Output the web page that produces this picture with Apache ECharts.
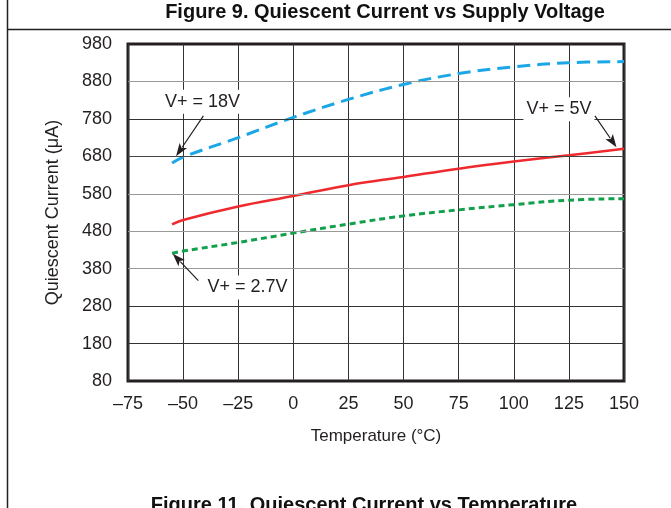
<!DOCTYPE html>
<html>
<head>
<meta charset="utf-8">
<script src="https://cdn.jsdelivr.net/npm/echarts@6/dist/echarts.min.js"></script>
<style>
  html, body { margin: 0; padding: 0; background: #fff; }
  #chart { width: 671px; height: 508px; }
</style>
</head>
<body>
<div id="chart"></div>
<script>
// ---- data ----
const temperatures = [-55, -50, -25, 0, 25, 50, 75, 100, 125, 150];
const current18V  = [662, 678, 730, 784, 832, 872, 901, 919, 930, 933];
const current5V   = [498, 510, 546, 574, 603, 625, 647, 666, 683, 700];
const current2V7  = [421, 427, 450, 475, 499, 521, 537, 551, 563, 567];
const xTicks = { min: -75, max: 150, step: 25 };
const yTicks = { min: 80, max: 980, step: 100 };
const hGridValues = [180, 280, 380, 480, 580, 680, 780, 880];
const seriesNames = ['V+ = 18V', 'V+ = 5V', 'V+ = 2.7V'];
// annotation anchors in data units
const annotations = [
  { text: 'V+ = 18V',  at: [-41.2, 826], from: [-40.8, 788], to: [-53.2, 680] },
  { text: 'V+ = 5V',   at: [120.5, 806], from: [136.8, 788], to: [146.6, 704] },
  { text: 'V+ = 2.7V', at: [-20.8, 330], from: [-43.1, 348], to: [-54.7, 420] }
];

// ---- styles ----
const FONT = '"Liberation Sans", Arial, Helvetica, sans-serif';
const hGridShade = { 180: '#333', 280: '#333', 380: '#999', 480: '#999', 580: '#999', 680: '#444', 780: '#333', 880: '#999' };
const dash = s => s.replace('-', '\u2013');

const pair = vals => temperatures.map((t, i) => [t, vals[i]]);

const chart = echarts.init(document.getElementById('chart'), null, { renderer: 'canvas' });

const option = {
  animation: false,
  backgroundColor: '#fff',
  textStyle: { fontFamily: FONT },
  grid: { left: 128, top: 44, width: 496, height: 337, show: true, borderColor: '#231f20', borderWidth: 3, backgroundColor: 'transparent' },
  xAxis: {
    type: 'value', min: xTicks.min, max: xTicks.max, interval: xTicks.step,
    name: 'Temperature (\u00B0C)', nameLocation: 'middle', nameGap: 47,
    nameTextStyle: { color: '#231f20', fontSize: 17, fontFamily: FONT },
    axisLine: { show: false }, axisTick: { show: false },
    axisLabel: { color: '#231f20', fontSize: 18, margin: 14, fontFamily: FONT, formatter: v => dash(String(v)) },
    splitLine: { show: true, lineStyle: { color: '#333', width: 1 } }
  },
  yAxis: {
    type: 'value', min: yTicks.min, max: yTicks.max, interval: yTicks.step,
    name: 'Quiescent Current (\u03BCA)', nameLocation: 'middle', nameGap: 66,
    nameTextStyle: { color: '#231f20', fontSize: 18, fontFamily: FONT },
    axisLine: { show: false }, axisTick: { show: false },
    axisLabel: { color: '#231f20', fontSize: 18, margin: 16, fontFamily: FONT },
    splitLine: { show: false }
  },
  series: [
    {
      name: 'grid', type: 'line', data: [], z: 1, silent: true,
      markLine: {
        silent: true, symbol: ['none', 'none'], animation: false,
        label: { show: false },
        data: hGridValues.map(v => ({ yAxis: v, lineStyle: { color: hGridShade[v], width: 1, type: 'solid' } }))
      }
    },
    {
      name: seriesNames[0], type: 'line', data: pair(current18V), smooth: 0.4, showSymbol: false, z: 3,
      lineStyle: { color: '#1ba7e6', width: 3, type: [13, 7] }
    },
    {
      name: seriesNames[1], type: 'line', data: pair(current5V), smooth: 0.4, showSymbol: false, z: 3,
      lineStyle: { color: '#ee2a2e', width: 2.5, type: 'solid' }
    },
    {
      name: seriesNames[2], type: 'line', data: pair(current2V7), smooth: 0.4, showSymbol: false, z: 3,
      lineStyle: { color: '#11a04c', width: 3, type: [6, 4] }
    }
  ]
};
chart.setOption(option);

// ---- annotations and page frame ----
function buildGraphics() {
  const els = [];
  els.push({ type: 'line', shape: { x1: 7.5, y1: 0, x2: 7.5, y2: 508 }, style: { stroke: '#231f20', lineWidth: 1.5 }, z: 10 });
  els.push({ type: 'line', shape: { x1: 7, y1: 29.5, x2: 671, y2: 29.5 }, style: { stroke: '#231f20', lineWidth: 1.5 }, z: 10 });
  els.push({ type: 'text', x: 385, y: 12, style: { text: 'Figure 9. Quiescent Current vs Supply Voltage', font: 'bold 20px ' + FONT, fill: '#111', textAlign: 'center', textVerticalAlign: 'middle' }, z: 10 });
  els.push({ type: 'text', x: 364, y: 515, style: { text: 'Figure 11. Quiescent Current vs Temperature', font: 'bold 20px ' + FONT, fill: '#111', textAlign: 'center', textVerticalAlign: 'bottom' }, z: 10 });

  annotations.forEach(a => {
    const p = chart.convertToPixel({ gridIndex: 0 }, a.at);
    const f = chart.convertToPixel({ gridIndex: 0 }, a.from);
    const t = chart.convertToPixel({ gridIndex: 0 }, a.to);
    els.push({ type: 'text', x: p[0], y: p[1], z: 20,
      style: { text: a.text, font: '18px ' + FONT, fill: '#231f20', textAlign: 'center', textVerticalAlign: 'middle',
               backgroundColor: '#fff', padding: [3, 3, 3, 3] } });
    const dx = t[0] - f[0], dy = t[1] - f[1];
    const len = Math.sqrt(dx * dx + dy * dy);
    const ux = dx / len, uy = dy / len;
    const headLen = 13, headW = 4.5;
    const bx = t[0] - ux * headLen, by = t[1] - uy * headLen;
    els.push({ type: 'line', z: 21, shape: { x1: f[0], y1: f[1], x2: bx + ux * 2, y2: by + uy * 2 }, style: { stroke: '#231f20', lineWidth: 1.2 } });
    els.push({ type: 'polygon', z: 21, shape: { points: [[t[0], t[1]], [bx - uy * headW, by + ux * headW], [bx + ux * 3, by + uy * 3], [bx + uy * headW, by - ux * headW]] }, style: { fill: '#231f20' } });
  });
  return els;
}
chart.setOption({ graphic: { elements: buildGraphics() } });
</script>
</body>
</html>
